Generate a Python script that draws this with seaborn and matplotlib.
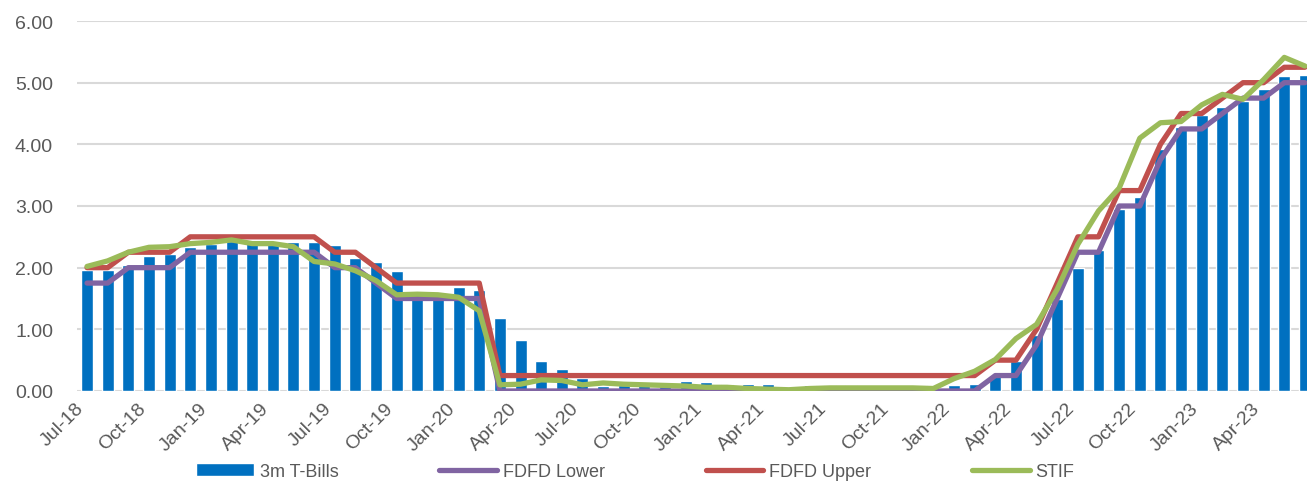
import numpy as np
import pandas as pd
import matplotlib
matplotlib.use("Agg")
import matplotlib.pyplot as plt
import matplotlib.transforms as mtransforms
import seaborn as sns

# monthly observations, Jul-18 .. Jun-23
months = pd.date_range("2018-07-01", periods=60, freq="MS").strftime("%b-%y").tolist()

tbills = [1.97, 1.97, 2.05, 2.19, 2.22, 2.33, 2.38, 2.43, 2.41, 2.41,
          2.41, 2.41, 2.37, 2.16, 2.09, 1.95, 1.57, 1.55, 1.68, 1.63,
          1.19, 0.82, 0.49, 0.36, 0.21, 0.08, 0.09, 0.09, 0.08, 0.16,
          0.14, 0.11, 0.11, 0.11, 0.02, 0.10, 0.10, 0.09, 0.04, 0.05,
          0.05, 0.09, 0.10, 0.11, 0.25, 0.48, 0.90, 1.49, 1.99, 2.28,
          2.95, 3.14, 3.93, 4.28, 4.48, 4.60, 4.71, 4.90, 5.11, 5.13]

fdfd_upper = [2.00, 2.00, 2.25, 2.25, 2.25, 2.50, 2.50, 2.50, 2.50, 2.50,
              2.50, 2.50, 2.25, 2.25, 2.00, 1.75, 1.75, 1.75, 1.75, 1.75,
              0.25, 0.25, 0.25, 0.25, 0.25, 0.25, 0.25, 0.25, 0.25, 0.25,
              0.25, 0.25, 0.25, 0.25, 0.25, 0.25, 0.25, 0.25, 0.25, 0.25,
              0.25, 0.25, 0.25, 0.25, 0.50, 0.50, 1.00, 1.75, 2.50, 2.50,
              3.25, 3.25, 4.00, 4.50, 4.50, 4.75, 5.00, 5.00, 5.25, 5.25]

fdfd_lower = [1.75, 1.75, 2.00, 2.00, 2.00, 2.25, 2.25, 2.25, 2.25, 2.25,
              2.25, 2.25, 2.00, 2.00, 1.75, 1.50, 1.50, 1.50, 1.50, 1.50,
              0.00, 0.00, 0.00, 0.00, 0.00, 0.00, 0.00, 0.00, 0.00, 0.00,
              0.00, 0.00, 0.00, 0.00, 0.00, 0.00, 0.00, 0.00, 0.00, 0.00,
              0.00, 0.00, 0.00, 0.00, 0.25, 0.25, 0.75, 1.50, 2.25, 2.25,
              3.00, 3.00, 3.75, 4.25, 4.25, 4.50, 4.75, 4.75, 5.00, 5.00]

stif = [2.02, 2.11, 2.25, 2.33, 2.34, 2.39, 2.41, 2.45, 2.39, 2.39,
        2.34, 2.10, 2.06, 1.95, 1.79, 1.56, 1.57, 1.56, 1.52, 1.30,
        0.10, 0.11, 0.18, 0.17, 0.10, 0.13, 0.11, 0.10, 0.09, 0.08,
        0.06, 0.06, 0.04, 0.03, 0.02, 0.04, 0.05, 0.05, 0.05, 0.05,
        0.05, 0.04, 0.20, 0.32, 0.51, 0.85, 1.08, 1.65, 2.38, 2.92,
        3.29, 4.10, 4.35, 4.37, 4.64, 4.81, 4.73, 5.05, 5.41, 5.27]

df = pd.DataFrame({"Month": months, "3m T-Bills": tbills, "FDFD Lower": fdfd_lower,
                   "FDFD Upper": fdfd_upper, "STIF": stif})
df["pos"] = np.arange(len(df))

sns.set_style("white")
plt.rcParams['font.family'] = ['Liberation Sans', 'DejaVu Sans']

fig = plt.figure(figsize=(13.07, 4.85), dpi=100)
ax = fig.add_axes([0.0587, 0.1918, 0.9413, 0.7628])

sns.barplot(data=df, x="Month", y="3m T-Bills", color="#0070C0", saturation=1,
            width=0.58, ax=ax, label="3m T-Bills", zorder=2)
sns.lineplot(data=df, x="pos", y="FDFD Lower", color="#8064A2", linewidth=3.8,
             ax=ax, label="FDFD Lower", zorder=3)
sns.lineplot(data=df, x="pos", y="FDFD Upper", color="#C0504D", linewidth=3.8,
             ax=ax, label="FDFD Upper", zorder=4)
sns.lineplot(data=df, x="pos", y="STIF", color="#9BBB59", linewidth=3.8,
             ax=ax, label="STIF", zorder=5)

ax.set_xlim(-0.5, 59.1)
ax.set_ylim(0, 6)
ax.set_yticks(np.arange(0, 7, 1))
ax.set_yticklabels([f"{v:.2f}" for v in np.arange(0, 7, 1)])
ax.yaxis.grid(True, color="#D9D9D9", linewidth=1.5, zorder=0)
ax.set_axisbelow(True)
ax.set_xticks(df["pos"][::3])
ax.set_xticklabels(df["Month"][::3], rotation=45, ha="right", rotation_mode="anchor")
ax.tick_params(axis="y", length=0, pad=17, labelsize=14, labelcolor="#595959")
ax.tick_params(axis="x", length=0, pad=6, labelsize=14, labelcolor="#595959")
shift = mtransforms.ScaledTranslation(-0.12, 0, fig.dpi_scale_trans)
for lbl in ax.get_xticklabels():
    lbl.set_transform(lbl.get_transform() + shift)
ax.set_xlabel("")
ax.set_ylabel("")
for s in ax.spines.values():
    s.set_visible(False)

handles, labels = ax.get_legend_handles_labels()
if ax.legend_:
    ax.legend_.remove()
order = [labels.index(n) for n in ["3m T-Bills", "FDFD Lower", "FDFD Upper", "STIF"]]
fig.legend([handles[i] for i in order], [labels[i] for i in order],
           loc="center", bbox_to_anchor=(0.486, 0.026), ncol=4,
           frameon=False, fontsize=13, handlelength=3.2, handleheight=0.7,
           handletextpad=0.3, columnspacing=5.6, labelcolor="#595959")

fig.savefig("out.png", dpi=100)
